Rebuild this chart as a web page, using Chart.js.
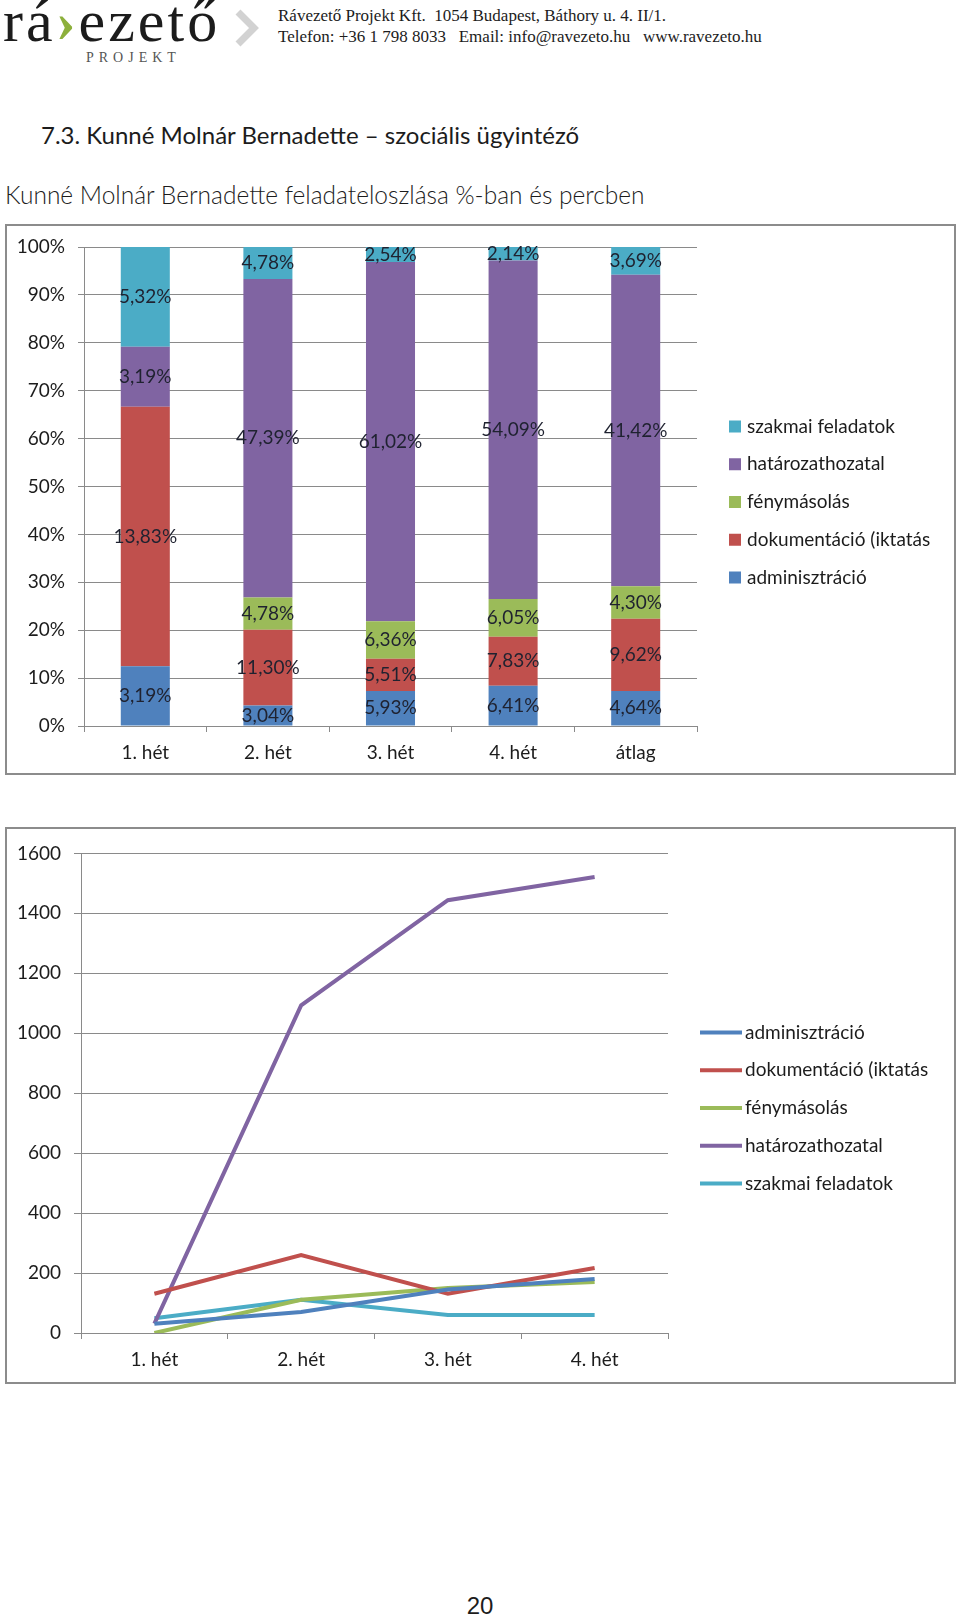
<!DOCTYPE html>
<html lang="hu">
<head>
<meta charset="utf-8">
<title>Kunné Molnár Bernadette feladateloszlása</title>
<script src="https://cdn.jsdelivr.net/npm/chart.js@4.4.1/dist/chart.umd.min.js"></script>
<style>
  html, body { margin: 0; padding: 0; background: #fff; }
  body { width: 960px; height: 1617px; position: relative; overflow: hidden; color: #1c1c1c; }
  .abs { position: absolute; white-space: nowrap; }
  #logo { left: 3px; top: -9px; font-family: "Liberation Serif", serif; font-size: 60px; line-height: 60px; letter-spacing: 3px; color: #1c1c1c; }
  #logo span { color: #8db03c; font-weight: bold; }
  #projekt { left: 86px; top: 51px; font-family: "Liberation Serif", serif; font-size: 14px; line-height: 14px; letter-spacing: 5px; color: #555; }
  #addr { left: 278px; top: 5px; font-family: "Liberation Serif", serif; font-size: 17px; line-height: 21px; color: #1c1c1c; }
  #title1 { left: 41px; top: 120px; font-family: Lato, sans-serif; font-size: 24px; line-height: 30px; }
  #title2 { left: 5px; top: 179px; font-family: Lato, sans-serif; font-weight: 300; font-size: 24.5px; line-height: 32px; }
  #pagenum { left: 0; width: 960px; text-align: center; top: 1592px; font-family: "Liberation Sans", sans-serif; font-size: 24px; line-height: 28px; }
  .box { position: absolute; left: 5px; width: 947px; border: 2px solid #8c8c8c; }
  .box canvas { display: block; }
  #box1 { top: 224px; height: 547px; }
  #box2 { top: 827px; height: 553px; }
</style>
</head>
<body>
<div id="logo" class="abs">rá<span>›</span>ezető</div>
<div id="projekt" class="abs">PROJEKT</div>
<svg class="abs" style="left:0;top:0" width="300" height="70">
  <polyline points="238,12 254,28 238,44" fill="none" stroke="#d2d2d2" stroke-width="7"/>
</svg>
<div id="addr" class="abs">Rávezető Projekt Kft.&nbsp; 1054 Budapest, Báthory u. 4. II/1.<br>Telefon: +36 1 798 8033 &nbsp; Email: info@ravezeto.hu &nbsp; www.ravezeto.hu</div>
<div id="title1" class="abs">7.3. Kunné Molnár Bernadette – szociális ügyintéző</div>
<div id="title2" class="abs">Kunné Molnár Bernadette feladateloszlása %-ban és percben</div>

<div id="box1" class="box"><canvas id="pctChart" width="947" height="547"></canvas></div>
<div id="box2" class="box"><canvas id="minChart" width="947" height="553"></canvas></div>

<div id="pagenum" class="abs">20</div>

<script>
// kategóriák
const weeks = ['1. hét', '2. hét', '3. hét', '4. hét', 'átlag'];
const lineWeeks = ['1. hét', '2. hét', '3. hét', '4. hét'];

// feladatok %-ban (az oszlopok feliratai)
const adminPct = [3.19, 3.04, 5.93, 6.41, 4.64];
const dokuPct = [13.83, 11.30, 5.51, 7.83, 9.62];
const fenyPct = [0, 4.78, 6.36, 6.05, 4.30];
const hatarPct = [3.19, 47.39, 61.02, 54.09, 41.42];
const szakmaiPct = [5.32, 4.78, 2.54, 2.14, 3.69];

// feladatok percben
const adminMin = [31, 70, 145, 180];
const dokuMin = [131, 260, 131, 217];
const fenyMin = [0, 111, 150, 170];
const hatarMin = [31, 1093, 1444, 1521];
const szakmaiMin = [49, 111, 60, 60];

const names = ['adminisztráció', 'dokumentáció (iktatás', 'fénymásolás', 'határozathozatal', 'szakmai feladatok'];
const colors = ['#4f81bd', '#c0504d', '#9bbb59', '#8064a2', '#4bacc6'];

Chart.defaults.font.family = 'Lato';
Chart.defaults.font.size = 19;
Chart.defaults.color = '#1c1c1c';

const gridColor = '#8a8a8a';

// 100%-os halmozott oszlop: minden hetet a saját összegére normálunk
const pctSeries = [adminPct, dokuPct, fenyPct, hatarPct, szakmaiPct];
const totals = weeks.map((w, j) => pctSeries.reduce((s, a) => s + a[j], 0));

const barLabels = {
    id: 'barLabels',
    afterDatasetsDraw(chart) {
        const ctx = chart.ctx;
        ctx.save();
        ctx.font = '19px Lato';
        ctx.fillStyle = '#1f2230';
        ctx.textAlign = 'center';
        ctx.textBaseline = 'middle';
        pctSeries.forEach((arr, i) => {
            chart.getDatasetMeta(i).data.forEach((bar, j) => {
                if (!arr[j]) return;
                ctx.fillText(arr[j].toFixed(2).replace('.', ',') + '%', bar.x, (bar.y + bar.base) / 2);
            });
        });
        ctx.restore();
    }
};

// jelmagyarázat a rajzterület jobb oldalán, függőlegesen középre
const sideLegend = {
    id: 'sideLegend',
    afterDraw(chart, args, opts) {
        const ctx = chart.ctx;
        let items = chart.data.datasets.map(ds => ({ text: ds.label, color: ds.borderColor || ds.backgroundColor }));
        if (opts.reverse) items = items.reverse();
        const x = chart.chartArea.right + opts.gap;
        let y = chart.height / 2 + 2.5 - (items.length - 1) * opts.spacing / 2;
        ctx.save();
        ctx.font = '19px Lato';
        ctx.textBaseline = 'middle';
        items.forEach(it => {
            let tx;
            if (opts.line) {
                ctx.strokeStyle = it.color;
                ctx.lineWidth = 4;
                ctx.beginPath();
                ctx.moveTo(x, y);
                ctx.lineTo(x + 42, y);
                ctx.stroke();
                tx = x + 45;
            } else {
                ctx.fillStyle = it.color;
                ctx.fillRect(x, y - 6, 12, 12);
                tx = x + 18;
            }
            ctx.fillStyle = '#1c1c1c';
            ctx.fillText(it.text, tx, y);
            y += opts.spacing;
        });
        ctx.restore();
    }
};

new Chart(document.getElementById('pctChart'), {
    type: 'bar',
    data: {
        labels: weeks,
        datasets: pctSeries.map((arr, i) => ({
            label: names[i],
            data: arr.map((v, j) => v / totals[j] * 100),
            backgroundColor: colors[i],
            barPercentage: 0.4,
            categoryPercentage: 1.0
        }))
    },
    options: {
        responsive: false,
        animation: false,
        layout: { padding: { left: 0, top: 0, right: 257, bottom: 0 } },
        plugins: {
            legend: { display: false },
            tooltip: { enabled: false },
            sideLegend: { reverse: true, gap: 32, spacing: 37.75 }
        },
        scales: {
            x: {
                stacked: true,
                grid: { offset: true, drawOnChartArea: false, tickLength: 6, color: gridColor },
                border: { color: gridColor },
                ticks: { padding: 9 },
                afterFit: s => { s.height = 47; }
            },
            y: {
                stacked: true,
                min: 0,
                max: 100,
                ticks: { stepSize: 10, padding: 13, callback: v => v + '%' },
                grid: { color: gridColor, tickLength: 6 },
                border: { color: gridColor },
                afterFit: s => { s.width = 77; s.paddingTop = 21; }
            }
        }
    },
    plugins: [barLabels, sideLegend]
});

const minSeries = [adminMin, dokuMin, fenyMin, hatarMin, szakmaiMin];

new Chart(document.getElementById('minChart'), {
    type: 'line',
    data: {
        labels: lineWeeks,
        datasets: minSeries.map((arr, i) => ({
            label: names[i],
            data: arr,
            borderColor: colors[i],
            backgroundColor: colors[i],
            borderWidth: 4,
            pointRadius: 0,
            tension: 0
        }))
    },
    options: {
        responsive: false,
        animation: false,
        layout: { padding: { left: 0, top: 12, right: 286, bottom: 0 } },
        plugins: {
            legend: { display: false },
            tooltip: { enabled: false },
            sideLegend: { line: true, gap: 32, spacing: 37.75 }
        },
        scales: {
            x: {
                offset: true,
                grid: { offset: true, drawOnChartArea: false, tickLength: 6, color: gridColor },
                border: { color: gridColor },
                ticks: { padding: 9 },
                afterFit: s => { s.height = 49; }
            },
            y: {
                min: 0,
                max: 1600,
                ticks: { stepSize: 200, padding: 13, callback: v => v },
                grid: { color: gridColor, tickLength: 7 },
                border: { color: gridColor },
                afterFit: s => { s.width = 74; }
            }
        }
    },
    plugins: [sideLegend]
});
</script>
</body>
</html>
